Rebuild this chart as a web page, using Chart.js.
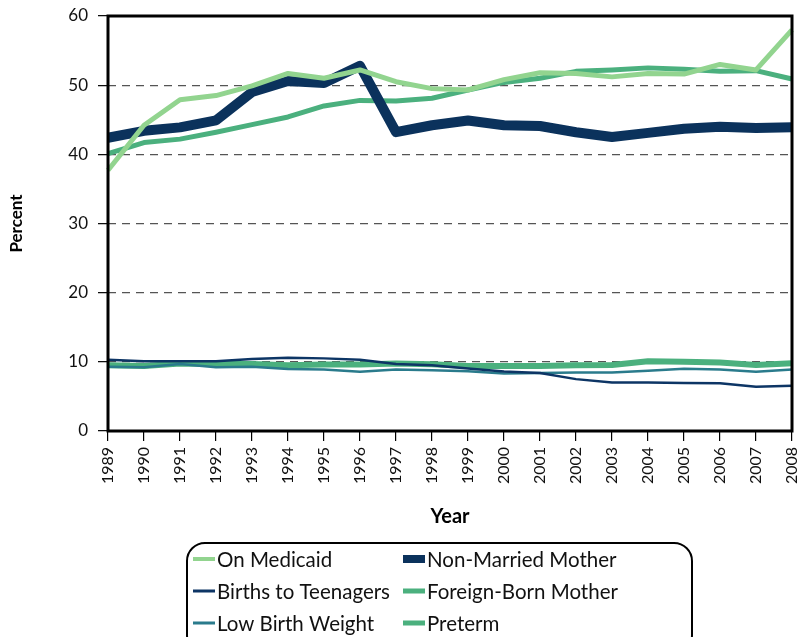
<!DOCTYPE html>
<html>
<head>
<meta charset="utf-8">
<script src="https://cdn.jsdelivr.net/npm/chart.js@4/dist/chart.umd.min.js"></script>
<style>
html,body{margin:0;padding:0;background:#fff;}
#wrap{width:798px;height:637px;position:relative;}
</style>
</head>
<body>
<div id="wrap"><canvas id="c"></canvas></div>
<script>
const years = ['1989','1990','1991','1992','1993','1994','1995','1996','1997','1998','1999','2000','2001','2002','2003','2004','2005','2006','2007','2008'];
const onMedicaid = [37.7,44.2,47.9,48.5,49.9,51.7,51.0,52.2,50.5,49.5,49.3,50.8,51.8,51.7,51.2,51.7,51.6,53.0,52.2,58.0];
const nonMarried = [42.4,43.4,43.9,44.9,49.0,50.6,50.3,52.8,43.2,44.2,44.9,44.2,44.1,43.2,42.5,43.1,43.7,44.0,43.8,43.9];
const teenBirths = [10.3,10.1,10.1,10.1,10.4,10.6,10.5,10.3,9.7,9.5,9.05,8.6,8.4,7.5,7.0,7.0,6.95,6.9,6.4,6.55];
const foreignBorn = [40.1,41.7,42.2,43.2,44.3,45.4,47.0,47.8,47.7,48.1,49.3,50.4,51.0,52.0,52.2,52.5,52.3,52.0,52.1,50.9];
const lowBirthWeight = [9.3,9.2,9.7,9.2,9.3,8.95,8.9,8.56,8.9,8.8,8.65,8.3,8.4,8.45,8.45,8.7,9.0,8.9,8.55,8.9];
const preterm = [9.5,9.4,9.75,9.7,9.7,9.5,9.6,9.6,9.75,9.65,9.4,9.4,9.4,9.5,9.55,10.1,10.0,9.9,9.55,9.8];
const yTicks = [0,10,20,30,40,50,60];

const FONT = 'Lato, "Open Sans", sans-serif';

const frameAndLegend = {
  id: 'frameAndLegend',
  afterDatasetsDraw(chart) {
    const {ctx, chartArea: a} = chart;
    ctx.save();
    ctx.strokeStyle = '#000';
    ctx.lineWidth = 3;
    ctx.strokeRect(a.left, a.top, a.right - a.left, a.bottom - a.top);
    ctx.restore();
  },
  afterDraw(chart) {
    const ctx = chart.ctx;
    ctx.save();
    const bx = 187, by = 543, bw = 505, bh = 110, r = 18;
    ctx.beginPath();
    ctx.moveTo(bx + r, by);
    ctx.lineTo(bx + bw - r, by);
    ctx.arcTo(bx + bw, by, bx + bw, by + r, r);
    ctx.lineTo(bx + bw, by + bh - r);
    ctx.arcTo(bx + bw, by + bh, bx + bw - r, by + bh, r);
    ctx.lineTo(bx + r, by + bh);
    ctx.arcTo(bx, by + bh, bx, by + bh - r, r);
    ctx.lineTo(bx, by + r);
    ctx.arcTo(bx, by, bx + r, by, r);
    ctx.closePath();
    ctx.strokeStyle = '#000';
    ctx.lineWidth = 2;
    ctx.stroke();
    const ds = chart.data.datasets;
    const sampleW = [4, 8, 3, 5, 3, 5];
    const colX = [193, 403];
    const rowY = [559, 591, 623];
    ctx.font = '20.5px ' + FONT;
    ctx.textBaseline = 'middle';
    ds.forEach((d, i) => {
      const col = i % 2, row = Math.floor(i / 2);
      const x = colX[col], y = rowY[row];
      ctx.fillStyle = d.borderColor;
      const h = sampleW[i];
      ctx.fillRect(x, y - h / 2, 22, h);
      ctx.fillStyle = '#111';
      ctx.fillText(d.label, x + 24, y + 1);
    });
    ctx.restore();
  }
};

new Chart(document.getElementById('c'), {
  type: 'line',
  data: {
    labels: years,
    datasets: [
      {label: 'On Medicaid', data: onMedicaid, borderColor: '#92d48f', borderWidth: 5},
      {label: 'Non-Married Mother', data: nonMarried, borderColor: '#0b325c', borderWidth: 10},
      {label: 'Births to Teenagers', data: teenBirths, borderColor: '#0d3565', borderWidth: 2.5},
      {label: 'Foreign-Born Mother', data: foreignBorn, borderColor: '#4bb07e', borderWidth: 5},
      {label: 'Low Birth Weight', data: lowBirthWeight, borderColor: '#2a7b8c', borderWidth: 2.5},
      {label: 'Preterm', data: preterm, borderColor: '#4bb07e', borderWidth: 6}
    ].map(d => Object.assign(d, {pointRadius: 0, pointHoverRadius: 0, fill: false, tension: 0, borderJoinStyle: 'round', borderCapStyle: 'butt'}))
  },
  options: {
    responsive: true,
    maintainAspectRatio: false,
    animation: false,
    events: [],
    layout: {padding: {left: 0, right: 6, top: 16, bottom: 106}},
    plugins: {legend: {display: false}, tooltip: {enabled: false}},
    scales: {
      x: {
        type: 'category',
        offset: false,
        grid: {drawOnChartArea: false, drawTicks: true, tickLength: 10, color: '#000', lineWidth: 1.2},
        border: {display: false},
        ticks: {autoSkip: false, minRotation: 90, maxRotation: 90, padding: 6, color: '#111', font: {family: FONT, size: 16}},
        title: {display: true, text: 'Year', color: '#000', font: {family: FONT, size: 20, weight: 'bold'}, padding: {top: 0, bottom: 2}},
        afterFit(s) { s.height = 100; s.paddingLeft = 0; s.paddingRight = 0; }
      },
      y: {
        min: 0, max: 60,
        afterBuildTicks(s) { s.ticks = yTicks.map(v => ({value: v})); },
        grid: {
          drawTicks: true, tickLength: 10, tickColor: '#000', tickWidth: 1.2,
          color: c => (c.tick && (c.tick.value === 0 || c.tick.value === 60)) ? 'rgba(0,0,0,0)' : '#555',
          lineWidth: 1.3, tickBorderDash: []
        },
        border: {display: false, dash: [8, 6]},
        ticks: {padding: 10, color: '#111', font: {family: FONT, size: 17}},
        title: {display: true, text: 'Percent', color: '#000', font: {family: FONT, size: 17, weight: 'bold'}, padding: {top: 6, bottom: 0}},
        afterFit(s) { s.width = 108; s.paddingTop = 0; s.paddingBottom = 0; }
      }
    }
  },
  plugins: [frameAndLegend]
});
</script>
</body>
</html>
